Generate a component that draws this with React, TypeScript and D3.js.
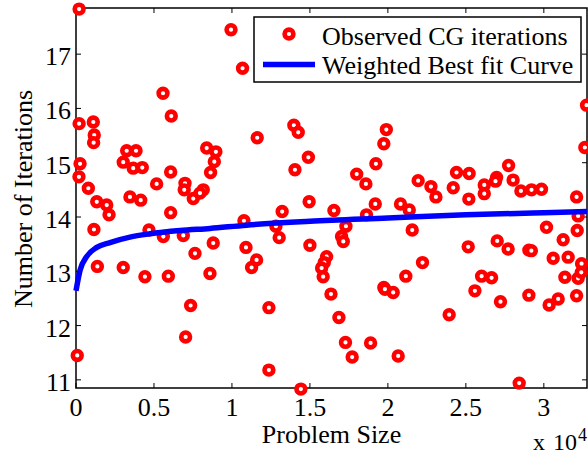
import React, { useEffect, useRef } from "react";
import * as d3 from "d3";

// problem size in units of 1e4
const obsSize = [
  0.02, 0.02, 0.111, 0.117, 0.113, 0.558, 0.611, 0.026, 0.019, 0.079,
  0.133, 0.197, 0.212, 0.115, 0.137, 0.303, 0.442, 0.592, 0.325, 0.385,
  0.303, 0.367, 0.425, 0.517, 0.607, 0.346, 0.415, 0.607, 0.468, 0.56,
  0.688, 0.699, 0.694, 0.752, 0.763, 0.008, 0.735, 0.703,
  0.994, 1.068, 1.397, 1.425, 1.162, 0.838, 0.897, 1.99, 1.974, 0.887,
  0.863, 1.49, 1.404, 0.816, 0.795, 1.8, 1.859, 1.923, 1.495, 1.322,
  1.077, 0.88, 1.09, 1.158, 1.126, 0.859, 1.282, 1.303, 1.654, 1.731,
  1.703, 1.714, 1.5, 1.919, 1.863, 1.607, 1.592, 1.575, 1.585, 1.635,
  1.974, 1.237, 1.237, 1.442, 1.686, 1.728, 1.771, 1.889,
  1.981, 2.034, 2.558, 2.722, 2.904, 3.034, 3.092, 3.21, 2.393, 2.066,
  2.842, 3.274, 3.263, 2.194, 2.276, 2.308, 2.44, 2.521, 2.419, 2.519,
  2.618, 2.618, 2.697, 2.69, 2.774, 2.803, 2.853, 2.921, 2.985, 3.21,
  3.22, 3.214, 2.081, 2.137, 2.156, 3.017, 3.124, 2.515, 2.701, 2.771,
  2.904, 2.92, 3.06, 3.156, 3.242, 2.222, 2.115, 2.601, 2.665, 3.135,
  3.22, 3.24,
];

const obsIters = [
  17.83, 15.72, 15.75, 15.51, 15.37, 16.28, 15.86, 14.98, 14.74, 14.53,
  14.28, 14.22, 14.04, 13.77, 13.09, 13.07, 12.9, 12.91, 15.22, 15.22,
  15.01, 14.9, 14.91, 14.61, 14.83, 14.37, 14.31, 14.08, 13.76, 13.64,
  13.66, 14.62, 14.5, 14.34, 13.33, 11.45, 12.37, 11.79,
  17.45, 16.74, 15.69, 15.56, 15.46, 15.27, 15.2, 15.61, 15.35, 15.02,
  14.82, 15.1, 14.87, 14.5, 14.44, 14.79, 14.61, 14.98, 14.28, 14.1,
  13.93, 13.52, 13.44, 13.21, 13.07, 12.96, 13.83, 13.62, 14.12, 13.83,
  13.64, 13.55, 13.48, 14.24, 14.04, 13.27, 13.16, 13.06, 12.9, 12.58,
  12.7, 12.33, 11.18, 10.83, 12.15, 11.69, 11.42, 11.68,
  12.67, 12.61, 12.64, 12.44, 12.56, 12.38, 12.49, 12.55, 12.2, 11.44,
  10.94, 16.06, 15.28, 14.67, 14.56, 14.37, 14.82, 14.8, 14.54, 14.33,
  14.59, 14.43, 14.73, 14.66, 14.95, 14.68, 14.48, 14.5, 14.51, 14.37,
  14.02, 13.75, 14.24, 14.13, 13.76, 13.81, 13.58, 13.45, 13.56, 13.41,
  13.39, 13.38, 13.24, 13.26, 13.14, 13.16, 12.91, 12.91, 12.88, 12.89,
  12.87, 12.98,
];

// weighted best fit curve
const fitSize = [0.0, 0.026, 0.068, 0.133, 0.218, 0.346, 0.474, 0.667, 0.859, 1.094, 1.5, 2.0, 2.5, 3.0, 3.2768];
const fitIters = [12.64, 13.02, 13.27, 13.44, 13.53, 13.63, 13.69, 13.75, 13.79, 13.85, 13.92, 13.98, 14.04, 14.08, 14.1];

const xTicks = [0, 0.5, 1, 1.5, 2, 2.5, 3];
const yTicks = [11, 12, 13, 14, 15, 16, 17];
const legendLabels = ["Observed CG iterations", "Weighted Best fit Curve"];

const FONT = "'Liberation Serif', 'Times New Roman', serif";

const App = () => {
  const svgRef = useRef<SVGSVGElement>(null);

  useEffect(() => {
    const W = 588;
    const H = 456;
    const left = 76, right = 587, top = 8, bottom = 388;

    const svg = d3.select(svgRef.current);
    svg.selectAll("*").remove();
    svg.attr("width", W).attr("height", H);

    const x = d3.scaleLinear().domain([0, 3.2768]).range([left, right]);
    const y = d3.scaleLinear().domain([10.85, 17.85]).range([bottom, top]);

    // axes box
    svg
      .append("rect")
      .attr("x", left)
      .attr("y", top)
      .attr("width", right - left)
      .attr("height", bottom - top)
      .attr("fill", "white")
      .attr("stroke", "black")
      .attr("stroke-width", 1.5);

    const tickLen = 5;
    const ticks = svg.append("g").attr("stroke", "black").attr("stroke-width", 1);
    xTicks.forEach((t) => {
      ticks.append("line").attr("x1", x(t)).attr("x2", x(t)).attr("y1", bottom).attr("y2", bottom - tickLen);
      ticks.append("line").attr("x1", x(t)).attr("x2", x(t)).attr("y1", top).attr("y2", top + tickLen);
    });
    yTicks.forEach((t) => {
      ticks.append("line").attr("x1", left).attr("x2", left + tickLen).attr("y1", y(t)).attr("y2", y(t));
      ticks.append("line").attr("x1", right).attr("x2", right - tickLen).attr("y1", y(t)).attr("y2", y(t));
    });

    // tick labels
    svg
      .append("g")
      .selectAll("text")
      .data(xTicks)
      .join("text")
      .attr("x", (d) => x(d))
      .attr("y", 416)
      .attr("text-anchor", "middle")
      .style("font-family", FONT)
      .style("font-size", "26px")
      .text((d) => String(d));

    svg
      .append("g")
      .selectAll("text")
      .data(yTicks)
      .join("text")
      .attr("x", 71)
      .attr("y", (d) => y(d) + 11)
      .attr("text-anchor", "end")
      .style("font-family", FONT)
      .style("font-size", "26px")
      .text((d) => String(d));

    // axis labels
    svg
      .append("text")
      .attr("x", (left + right) / 2)
      .attr("y", 443)
      .attr("text-anchor", "middle")
      .style("font-family", FONT)
      .style("font-size", "26px")
      .text("Problem Size");

    svg
      .append("text")
      .attr("transform", `translate(32,199) rotate(-90)`)
      .attr("text-anchor", "middle")
      .style("font-family", FONT)
      .style("font-size", "26px")
      .text("Number of Iterations");

    // exponent label, x 10^4
    const expo = svg.append("g").style("font-family", FONT);
    expo.append("text").attr("x", 533).attr("y", 450).style("font-size", "24px").text("x");
    expo.append("text").attr("x", 553).attr("y", 450).style("font-size", "24px").text("10");
    expo.append("text").attr("x", 578).attr("y", 441).style("font-size", "18px").text("4");

    // observed points
    const pts = obsSize.map((s, i) => ({ s, v: obsIters[i] }));
    svg
      .append("g")
      .selectAll("circle")
      .data(pts)
      .join("circle")
      .attr("cx", (d) => x(d.s))
      .attr("cy", (d) => y(d.v))
      .attr("r", 4.4)
      .attr("fill", "white")
      .attr("stroke", "#ff0000")
      .attr("stroke-width", 4.6);

    // fit curve
    const fit = fitSize.map((s, i) => ({ s, v: fitIters[i] }));
    const line = d3
      .line<{ s: number; v: number }>()
      .x((d) => x(d.s))
      .y((d) => y(d.v))
      .curve(d3.curveMonotoneX);
    svg
      .append("path")
      .datum(fit)
      .attr("fill", "none")
      .attr("stroke", "#0000ff")
      .attr("stroke-width", 5.5)
      .attr("d", line);

    // legend
    const lg = svg.append("g");
    lg.append("rect")
      .attr("x", 254)
      .attr("y", 17)
      .attr("width", 327)
      .attr("height", 65)
      .attr("fill", "white")
      .attr("stroke", "black")
      .attr("stroke-width", 1.5);
    lg.append("circle")
      .attr("cx", 289)
      .attr("cy", 34)
      .attr("r", 4.4)
      .attr("fill", "white")
      .attr("stroke", "#ff0000")
      .attr("stroke-width", 4.6);
    lg.append("line")
      .attr("x1", 263)
      .attr("x2", 315)
      .attr("y1", 64.5)
      .attr("y2", 64.5)
      .attr("stroke", "#0000ff")
      .attr("stroke-width", 5.5);
    lg.selectAll("text.lbl")
      .data(legendLabels)
      .join("text")
      .attr("class", "lbl")
      .attr("x", 322)
      .attr("y", (_, i) => (i === 0 ? 45 : 74))
      .style("font-family", FONT)
      .style("font-size", "26px")
      .text((d) => d);
  }, []);

  return (
    <div style={{ position: "absolute", left: 0, top: 0 }}>
      <svg ref={svgRef} style={{ display: "block" }} />
    </div>
  );
};

export default App;
